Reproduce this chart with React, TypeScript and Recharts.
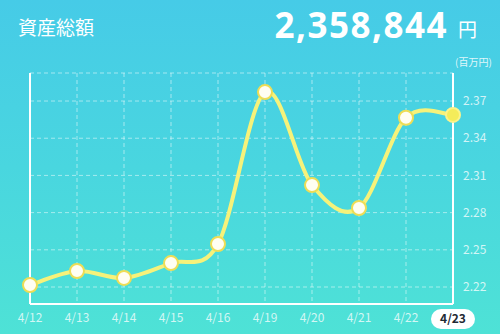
import { LineChart, Line, XAxis, YAxis, CartesianGrid, ReferenceLine } from 'recharts';

const dates = ['4/12', '4/13', '4/14', '4/15', '4/16', '4/19', '4/20', '4/21', '4/22', '4/23'];
const totals = [2.2216, 2.2329, 2.2273, 2.2393, 2.2547, 2.3772, 2.3022, 2.2837, 2.3565, 2.3588];
const yTicks = [2.22, 2.25, 2.28, 2.31, 2.34, 2.37];

const data = dates.map((d, i) => ({ date: d, total: totals[i] }));
const lastDate = dates[dates.length - 1];
const font = '"Noto Sans CJK JP", "Noto Sans", sans-serif';

// catmull-rom style curve (overshoots a little like the original app)
const smoothCurve = (context: any) => {
    let pts: number[][] = [];
    return {
        areaStart() {},
        areaEnd() {},
        lineStart() {
            pts = [];
        },
        point(x: number, y: number) {
            pts.push([+x, +y]);
        },
        lineEnd() {
            if (!pts.length) return;
            context.moveTo(pts[0][0], pts[0][1]);
            for (let i = 0; i < pts.length - 1; i++) {
                const p0 = pts[Math.max(i - 1, 0)];
                const p1 = pts[i];
                const p2 = pts[i + 1];
                const p3 = pts[Math.min(i + 2, pts.length - 1)];
                context.bezierCurveTo(
                    p1[0] + (p2[0] - p0[0]) / 6,
                    p1[1] + (p2[1] - p0[1]) / 6,
                    p2[0] - (p3[0] - p1[0]) / 6,
                    p2[1] - (p3[1] - p1[1]) / 6,
                    p2[0],
                    p2[1]
                );
            }
        },
    };
};

const Dot = (props: any) => {
    const { cx, cy, index } = props;
    const last = index === dates.length - 1;
    return (
        <circle
            key={index}
            cx={cx}
            cy={cy}
            r={7}
            fill={last ? '#f4ec5a' : '#fffef2'}
            stroke={last ? '#fbf38a' : '#eedd55'}
            strokeWidth={2}
        />
    );
};

const DateTick = (props: any) => {
    const { x, y, payload } = props;
    if (payload.value === lastDate) {
        return (
            <g>
                <rect x={x - 22} y={y - 3} width={44} height={20} rx={10} fill="#ffffff" />
                <text x={x} y={y + 11} textAnchor="middle" fontSize={12} fontWeight={700} fill="#1f2a33" fontFamily={font}>
                    {payload.value}
                </text>
            </g>
        );
    }
    return (
        <text x={x} y={y + 10} textAnchor="middle" fontSize={12} fill="rgba(255,255,255,0.75)" fontFamily={font}>
            {payload.value}
        </text>
    );
};

export default function App() {
    return (
        <div
            style={{
                position: 'absolute',
                left: 0,
                top: 0,
                width: 500,
                height: 334,
                overflow: 'hidden',
                background: 'linear-gradient(180deg, #46cbe7 0%, #49d6df 50%, #4ee2d6 100%)',
                fontFamily: font,
            }}
        >
            <div style={{ position: 'absolute', left: 18, top: 13, fontSize: 19, color: '#ffffff' }}>資産総額</div>
            <div
                style={{
                    position: 'absolute',
                    right: 52,
                    top: 1,
                    fontSize: 35,
                    fontWeight: 700,
                    color: '#ffffff',
                    fontFamily: '"Open Sans", "Noto Sans", sans-serif',
                    letterSpacing: 1.5,
                }}
            >
                2,358,844
            </div>
            <div style={{ position: 'absolute', left: 458, top: 15, fontSize: 19, color: '#ffffff' }}>円</div>
            <div style={{ position: 'absolute', left: 455, top: 54, fontSize: 10, color: 'rgba(255,255,255,0.85)' }}>(百万円)</div>
            <LineChart width={500} height={334} data={data} margin={{ top: 73, right: 0, bottom: 0, left: 30 }}>
                <CartesianGrid stroke="rgba(255,255,255,0.5)" strokeDasharray="4 3" />
                <XAxis
                    dataKey="date"
                    height={30}
                    axisLine={{ stroke: '#ffffff', strokeWidth: 2 }}
                    tickLine={false}
                    tick={<DateTick />}
                    interval={0}
                />
                <YAxis
                    orientation="right"
                    width={47}
                    domain={[2.2063, 2.3926]}
                    ticks={yTicks}
                    allowDataOverflow
                    axisLine={{ stroke: '#ffffff', strokeWidth: 2 }}
                    tickLine={false}
                    tickMargin={4}
                    tick={{ fill: 'rgba(255,255,255,0.75)', fontSize: 12, fontFamily: font }}
                    tickFormatter={(v: number) => v.toFixed(2)}
                />
                <ReferenceLine x="4/12" stroke="#ffffff" strokeWidth={2} />
                <Line
                    type={smoothCurve as any}
                    dataKey="total"
                    stroke="#f6f27a"
                    strokeWidth={4}
                    dot={<Dot />}
                    activeDot={false}
                    isAnimationActive={false}
                />
            </LineChart>
        </div>
    );
}
